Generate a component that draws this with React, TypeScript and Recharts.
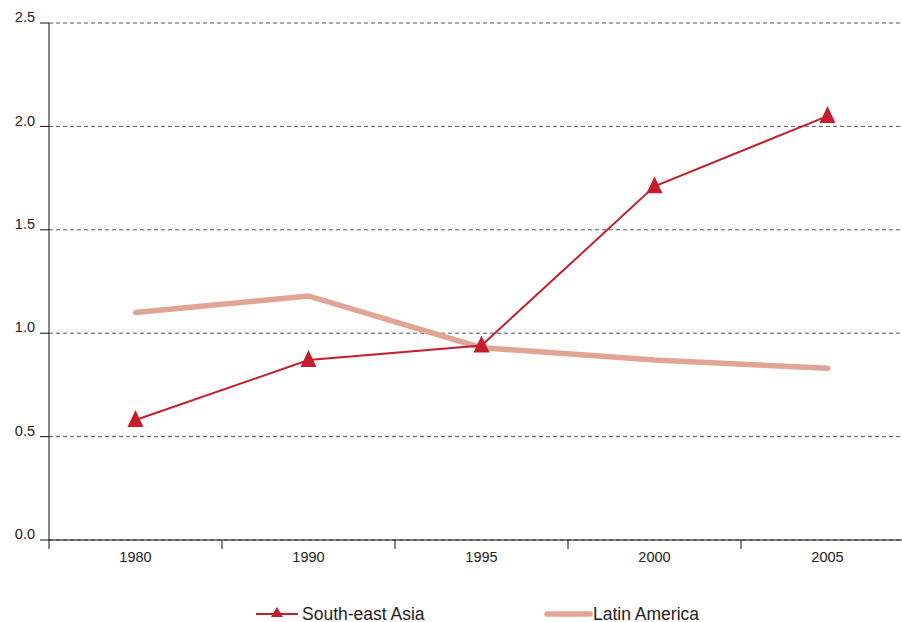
import React from "react";
import { LineChart, Line, XAxis, YAxis, CartesianGrid } from "recharts";

// Years along the x axis
const years = ["1980", "1990", "1995", "2000", "2005"];
// Values
const southEastAsia = [0.58, 0.87, 0.94, 1.71, 2.05];
const latinAmerica = [1.1, 1.18, 0.93, 0.87, 0.83];
const yTicks = [0, 0.5, 1.0, 1.5, 2.0, 2.5];

const series = [
  { key: "sea", name: "South-east Asia", color: "#c41e2e" },
  { key: "lat", name: "Latin America", color: "#e0a595" },
];

const data = years.map((y, i) => ({
  year: y,
  sea: southEastAsia[i],
  lat: latinAmerica[i],
}));

const CHART_W = 920;
const CHART_H = 622;
const MARGIN = { top: 23, right: 6, left: 0, bottom: 52 };
const Y_AXIS_W = 49;
const BAND = (CHART_W - MARGIN.left - MARGIN.right - Y_AXIS_W) / years.length;
const FONT = '"Liberation Sans", Arial, sans-serif';

const XTick = (props: any) => {
  const { x, y, payload, index } = props;
  const half = BAND / 2;
  return (
    <g>
      <line x1={x - half} x2={x - half} y1={y} y2={y + 9} stroke="#111" />
      {index === years.length - 1 && (
        <line x1={x + half} x2={x + half} y1={y} y2={y + 9} stroke="#111" />
      )}
      <text x={x} y={y + 22} textAnchor="middle" fontSize={14.5} fill="#222" fontFamily={FONT}>
        {payload.value}
      </text>
    </g>
  );
};

const TriangleDot = (props: any) => {
  const { cx, cy, index } = props;
  if (cx == null || cy == null) return null;
  return (
    <polygon
      key={index}
      points={`${cx},${cy - 10} ${cx - 8},${cy + 7} ${cx + 8},${cy + 7}`}
      fill={series[0].color}
    />
  );
};

export default function App() {
  return (
    <div
      style={{
        position: "absolute",
        left: 0,
        top: 0,
        width: 902,
        height: 622,
        overflow: "hidden",
        background: "#fff",
        fontFamily: FONT,
      }}
    >
      <LineChart width={CHART_W} height={CHART_H} data={data} margin={MARGIN}>
        <CartesianGrid horizontal vertical={false} stroke="#555" strokeDasharray="4 3" />
        <XAxis
          dataKey="year"
          scale="band"
          interval={0}
          height={30}
          tickLine={false}
          tickSize={0}
          tickMargin={0}
          axisLine={{ stroke: "#111" }}
          tick={<XTick />}
        />
        <YAxis
          width={Y_AXIS_W}
          domain={[0, 2.5]}
          ticks={yTicks}
          interval={0}
          tickSize={9}
          tickMargin={5}
          tickFormatter={(v: number) => v.toFixed(1)}
          axisLine={{ stroke: "#111" }}
          tickLine={{ stroke: "#111" }}
          tick={{ fontSize: 14.5, fill: "#222", fontFamily: FONT, dy: -6 }}
        />
        <Line
          type="linear"
          dataKey="lat"
          name={series[1].name}
          stroke={series[1].color}
          strokeWidth={5.5}
          strokeLinecap="round"
          dot={false}
          activeDot={false}
          isAnimationActive={false}
        />
        <Line
          type="linear"
          dataKey="sea"
          name={series[0].name}
          stroke={series[0].color}
          strokeWidth={2}
          dot={<TriangleDot />}
          activeDot={false}
          isAnimationActive={false}
        />
      </LineChart>
      {/* Legend */}
      <div style={{ position: "absolute", left: 256, top: 604, height: 20, display: "flex", alignItems: "center", fontSize: 17.5, color: "#222" }}>
        <svg width={44} height={20} style={{ marginRight: 2 }}>
          <line x1={0} x2={42} y1={10} y2={10} stroke={series[0].color} strokeWidth={2} />
          <polygon points="21,3 15,13 27,13" fill={series[0].color} />
        </svg>
        <span>{series[0].name}</span>
      </div>
      <div style={{ position: "absolute", left: 543, top: 604, height: 20, display: "flex", alignItems: "center", fontSize: 17.5, color: "#222" }}>
        <svg width={50} height={20} style={{ marginRight: 0 }}>
          <line x1={4} x2={47} y1={10} y2={10} stroke={series[1].color} strokeWidth={5.5} strokeLinecap="round" />
        </svg>
        <span>{series[1].name}</span>
      </div>
    </div>
  );
}
